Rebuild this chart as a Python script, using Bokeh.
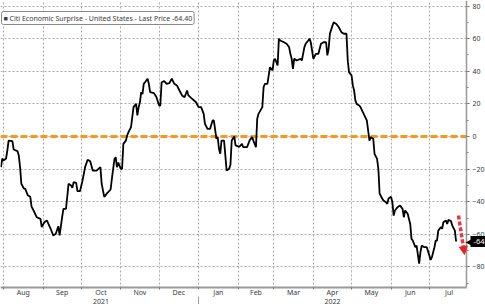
import pandas as pd
from bokeh.plotting import figure
from bokeh.models import (Range1d, FixedTicker, Span, Label, Arrow, NormalHead,
                          CustomJSTickFormatter, BoxAnnotation)
from bokeh.embed import file_html
from bokeh.resources import INLINE

# ---------------- data ----------------
series_name = "Citi Economic Surprise - United States - Last Price"
last_price = -64.40

dates = [
    "2021-07-30", "2021-07-31", "2021-08-01", "2021-08-03", "2021-08-04", "2021-08-05",
    "2021-08-08", "2021-08-09", "2021-08-12", "2021-08-13", "2021-08-14", "2021-08-15",
    "2021-08-17", "2021-08-18", "2021-08-20", "2021-08-22", "2021-08-23", "2021-08-25",
    "2021-08-27", "2021-08-30", "2021-08-31", "2021-09-02", "2021-09-04", "2021-09-07",
    "2021-09-09", "2021-09-11", "2021-09-13", "2021-09-14", "2021-09-16", "2021-09-17",
    "2021-09-19", "2021-09-20", "2021-09-21", "2021-09-23", "2021-09-24", "2021-09-25",
    "2021-09-27", "2021-09-28", "2021-09-30", "2021-10-02", "2021-10-04", "2021-10-06",
    "2021-10-08", "2021-10-10", "2021-10-13", "2021-10-16", "2021-10-17", "2021-10-19",
    "2021-10-21", "2021-10-24", "2021-10-25", "2021-10-27", "2021-10-28", "2021-10-29",
    "2021-10-30", "2021-11-01", "2021-11-02", "2021-11-03", "2021-11-05", "2021-11-06",
    "2021-11-07", "2021-11-09", "2021-11-10", "2021-11-11", "2021-11-13", "2021-11-14",
    "2021-11-15", "2021-11-16", "2021-11-17", "2021-11-18", "2021-11-19", "2021-11-20",
    "2021-11-22", "2021-11-23", "2021-11-24", "2021-11-27", "2021-11-29", "2021-12-01",
    "2021-12-02", "2021-12-03", "2021-12-05", "2021-12-07", "2021-12-09", "2021-12-10",
    "2021-12-11", "2021-12-13", "2021-12-15", "2021-12-17", "2021-12-19", "2021-12-21",
    "2021-12-23", "2021-12-24", "2021-12-27", "2021-12-30", "2022-01-01", "2022-01-03",
    "2022-01-05", "2022-01-06", "2022-01-08", "2022-01-10", "2022-01-12", "2022-01-13",
    "2022-01-15", "2022-01-16", "2022-01-17", "2022-01-18", "2022-01-19", "2022-01-21",
    "2022-01-22", "2022-01-23", "2022-01-25", "2022-01-26", "2022-01-27", "2022-01-29",
    "2022-01-30", "2022-02-02", "2022-02-04", "2022-02-05", "2022-02-08", "2022-02-10",
    "2022-02-12", "2022-02-13", "2022-02-15", "2022-02-16", "2022-02-17", "2022-02-20",
    "2022-02-21", "2022-02-22", "2022-02-24", "2022-02-26", "2022-02-28", "2022-03-01",
    "2022-03-02", "2022-03-04", "2022-03-05", "2022-03-06", "2022-03-09", "2022-03-11",
    "2022-03-13", "2022-03-14", "2022-03-15", "2022-03-16", "2022-03-17", "2022-03-19",
    "2022-03-22", "2022-03-23", "2022-03-25", "2022-03-26", "2022-03-28", "2022-03-29",
    "2022-03-30", "2022-04-01", "2022-04-03", "2022-04-05", "2022-04-07", "2022-04-09",
    "2022-04-11", "2022-04-12", "2022-04-13", "2022-04-14", "2022-04-16", "2022-04-17",
    "2022-04-19", "2022-04-21", "2022-04-23", "2022-04-25", "2022-04-27", "2022-04-28",
    "2022-04-29", "2022-05-01", "2022-05-02", "2022-05-03", "2022-05-04", "2022-05-05",
    "2022-05-07", "2022-05-08", "2022-05-13", "2022-05-14", "2022-05-15", "2022-05-16",
    "2022-05-18", "2022-05-19", "2022-05-21", "2022-05-22", "2022-05-23", "2022-05-25",
    "2022-05-26", "2022-05-28", "2022-05-29", "2022-05-30", "2022-06-01", "2022-06-02",
    "2022-06-03", "2022-06-04", "2022-06-06", "2022-06-08", "2022-06-10", "2022-06-11",
    "2022-06-12", "2022-06-14", "2022-06-16", "2022-06-17", "2022-06-18", "2022-06-20",
    "2022-06-21", "2022-06-23", "2022-06-24", "2022-06-25", "2022-06-27", "2022-06-29",
    "2022-07-01", "2022-07-02", "2022-07-03", "2022-07-05", "2022-07-06", "2022-07-07",
    "2022-07-08", "2022-07-10", "2022-07-11", "2022-07-12", "2022-07-14", "2022-07-15",
    "2022-07-16", "2022-07-18", "2022-07-19", "2022-07-21", "2022-07-22",
]
values = [
    -18.8, -13.5, -14.7, -13.5, -8.6, -2.5,
    -2.9, -8.0, -9.0, -11.7, -18.8, -29.0,
    -32.0, -32.0, -36.0, -37.0, -43.0, -46.0,
    -49.5, -50.5, -55.6, -52.6, -51.5, -56.6,
    -60.7, -59.6, -55.0, -60.7, -49.5, -44.4,
    -44.4, -37.0, -29.0, -30.0, -31.5, -28.0,
    -28.5, -33.5, -33.5, -27.0, -18.8, -14.3,
    -15.2, -20.9, -20.9, -18.8, -29.0, -37.0,
    -35.0, -32.5, -26.0, -14.0, -12.7, -18.8,
    -16.0, -19.8, -19.8, -4.5, -2.5, 0.6,
    2.6, 5.7, 11.8, 18.0, 20.0, 12.9,
    18.0, 21.0, 27.2, 26.0, 32.3, 33.3,
    35.4, 32.3, 27.2, 26.6, 24.1, 19.0,
    19.0, 33.3, 34.0, 32.3, 32.7, 34.0,
    35.4, 32.3, 31.3, 28.2, 25.2, 24.1,
    28.2, 25.2, 23.1, 21.0, 18.0, 18.0,
    13.9, 7.8, 4.7, 4.7, 9.8, 9.8,
    -1.4, -0.4, -7.5, -10.6, -2.5, -2.5,
    -11.7, -20.9, -19.8, -17.3, -2.5, 0.0,
    -5.5, -6.3, -4.5, -6.5, -6.5, -2.5,
    -0.4, -2.5, -6.5, 10.9, 13.9, 18.0,
    30.2, 32.3, 32.3, 42.5, 40.5, 46.6,
    47.7, 43.6, 60.0, 58.9, 57.8, 56.9,
    54.8, 50.7, 47.7, 41.5, 47.7, 46.6,
    47.7, 46.6, 54.8, 56.9, 58.9, 60.0,
    57.8, 47.7, 50.7, 50.7, 56.9, 57.8,
    57.8, 49.7, 53.8, 63.0, 68.0, 70.0,
    69.0, 67.0, 64.0, 63.0, 63.0, 46.6,
    39.5, 37.4, 31.3, 28.2, 22.0, 20.0,
    19.0, 18.0, 9.8, 3.7, -2.5, -0.4,
    -1.4, -10.6, -13.7, -19.8, -35.0, -38.0,
    -39.3, -40.3, -41.3, -38.0, -37.0, -40.3,
    -48.5, -45.4, -43.4, -42.3, -44.4, -49.5,
    -45.4, -47.4, -53.6, -62.8, -63.8, -67.9,
    -66.9, -78.0, -71.0, -66.9, -67.9, -67.9,
    -73.0, -75.7, -74.0, -67.9, -63.8, -63.8,
    -57.7, -55.6, -56.6, -52.6, -51.5, -53.6,
    -51.0, -52.0, -54.6, -57.7, -64.4,
]
month_labels = ["Aug", "Sep", "Oct", "Nov", "Dec", "Jan", "Feb", "Mar", "Apr", "May", "Jun", "Jul"]
month_starts = ["2021-08-01", "2021-09-01", "2021-10-01", "2021-11-01", "2021-12-01", "2022-01-01",
                "2022-02-01", "2022-03-01", "2022-04-01", "2022-05-01", "2022-06-01", "2022-07-01",
                "2022-08-01"]
year_labels = ["2021", "2022"]
year_label_months = ["Oct", "Apr"]
year_start = "2022-01-01"
y_ticks = [-80, -60, -40, -20, 0, 20, 40, 60, 80]

# ---------------- geometry helpers ----------------
def ms(ts):
    return pd.Timestamp(ts).value / 1e6

W, H = 485, 304            # whole canvas = frame
AX_X, AX_Y = 466, 287      # pixel position of the value axis / time axis
PX_PER_DAY = 1.275
PX_PER_UNIT = 1.6307
x_start = pd.Timestamp("2021-08-01") - pd.Timedelta(days=3 / PX_PER_DAY)
x_end = x_start + pd.Timedelta(days=W / PX_PER_DAY)
Y1 = 83.4
Y0 = Y1 - H / PX_PER_UNIT

def xpx(px):
    return ms(x_start) + (ms(x_end) - ms(x_start)) * px / W

def ypx(py):
    return Y1 - (Y1 - Y0) * py / H

axis_x = xpx(AX_X)
axis_y = ypx(AX_Y)

bounds_ms = [ms(d) for d in month_starts]
mid_ms = [(a + b) / 2 for a, b in zip(bounds_ms[:-1], bounds_ms[1:])]
year_ms = [mid_ms[month_labels.index(m)] for m in year_label_months]

TXT = "#3a3a3a"
FONT = "Noto Sans"

p = figure(width=W, height=H, x_axis_type="datetime", y_axis_location="right",
           x_range=Range1d(ms(x_start), ms(x_end)), y_range=Range1d(Y0, Y1),
           output_backend="svg", toolbar_location=None, min_border=0)
p.outline_line_color = None
p.background_fill_color = "white"

# grids
p.xgrid.ticker = FixedTicker(ticks=bounds_ms[:-1])
p.ygrid.ticker = FixedTicker(ticks=y_ticks)
for g in (p.xgrid, p.ygrid):
    g.grid_line_color = "#ababab"
    g.grid_line_alpha = 1.0
    g.grid_line_dash = "2 2"
    g.grid_line_width = 1

# zero line
p.add_layout(Span(location=0, dimension="width", line_color="#f39a1e",
                  line_width=3, line_dash="7 3", level="underlay"))

# white margins outside the plotting area (cover grid & zero line)
p.add_layout(BoxAnnotation(left=axis_x, fill_color="white", fill_alpha=1, line_color=None,
                           level="underlay"))
p.add_layout(BoxAnnotation(top=axis_y, fill_color="white", fill_alpha=1, line_color=None,
                           level="underlay"))

def nearest_formatter(ticks, labels):
    return CustomJSTickFormatter(args=dict(t=ticks, l=labels), code="""
        let b = 0;
        for (let i = 0; i < t.length; i++) { if (Math.abs(t[i]-tick) < Math.abs(t[b]-tick)) b = i; }
        return l[b];
    """)

# x axis (months)
xa = p.xaxis[0]
xa.fixed_location = axis_y
xa.bounds = (ms(x_start), axis_x)
xa.ticker = FixedTicker(ticks=mid_ms, minor_ticks=bounds_ms[:-1])
xa.formatter = nearest_formatter(mid_ms, month_labels)
xa.major_tick_out = 0
xa.major_tick_in = 0
xa.minor_tick_out = 2
xa.minor_tick_in = 0
xa.minor_tick_line_color = "#777777"
xa.axis_line_color = "#999999"
xa.axis_line_width = 2
xa.major_label_text_font = FONT
xa.major_label_text_font_size = "7px"
xa.major_label_text_color = TXT
xa.major_label_standoff = -2

# y axis (values)
ya = p.yaxis[0]
ya.fixed_location = axis_x
ya.bounds = (axis_y, Y1)
ya.ticker = FixedTicker(ticks=y_ticks, minor_ticks=list(range(-90, 91, 10)))
ya.major_tick_out = 3
ya.major_tick_in = 0
ya.minor_tick_out = 2
ya.minor_tick_in = 0
ya.major_tick_line_color = "#666666"
ya.minor_tick_line_color = "#888888"
ya.axis_line_color = "#999999"
ya.axis_line_width = 1.5
ya.major_label_text_font = FONT
ya.major_label_text_font_size = "7px"
ya.major_label_text_color = TXT
ya.major_label_standoff = 3

# series
p.line(x=pd.to_datetime(dates), y=values, line_color="black", line_width=1.8)

# year labels and separator
for yl, xm in zip(year_labels, year_ms):
    p.add_layout(Label(x=xm, y=ypx(300.5), text=yl, text_font=FONT, text_font_size="7px",
                       text_color=TXT, text_align="center", text_baseline="middle"))
p.add_layout(Arrow(end=None, x_start=ms(year_start), y_start=ypx(296), x_end=ms(year_start),
                   y_end=ypx(304), line_color="#999999", line_width=1))

# legend box
p.add_layout(Label(x=xpx(1), y=ypx(17.5), text="\u25a0 " + series_name + " %.2f" % last_price,
                   text_font=FONT, text_font_size="7px", text_color=TXT,
                   text_baseline="middle", background_fill_color="white",
                   border_line_color="#8a8a8a", border_line_width=1, border_radius=2,
                   padding=2))

# last-price tag
p.add_layout(Label(x=xpx(465), y=last_price, text="\u25c0", text_font="DejaVu Sans",
                   text_font_size="10px", text_color="black", text_baseline="middle"))
p.add_layout(Label(x=xpx(470), y=last_price, text="%.2f" % last_price, text_font=FONT,
                   text_font_size="7.5px", text_color="white", text_baseline="middle",
                   background_fill_color="black", padding=3))

# red annotation arrow
p.add_layout(Arrow(end=NormalHead(size=8, fill_color="#e3242b", line_color="#e3242b"),
                   x_start=xpx(458), y_start=ypx(215), x_end=xpx(464), y_end=ypx(254),
                   line_color="#e3242b", line_width=3.5, line_dash="4 2", line_alpha=0.9))

open("out.html", "w").write(file_html(p, INLINE))
